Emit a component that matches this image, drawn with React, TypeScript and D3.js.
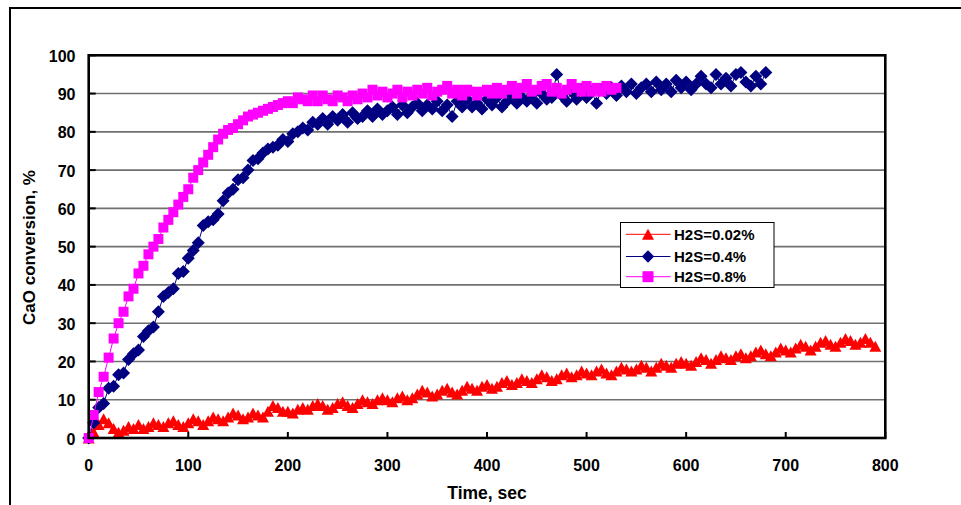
import React from "react";
import * as d3 from "d3";

// sampling interval of the recorded series (seconds)
const TIME_STEP = 5;

const seriesNames = ["H2S=0.02%", "H2S=0.4%", "H2S=0.8%"];

// H2S = 0.02 %  (t = 0 … 790 s), one row = 100 s
const red002 = [
  0, 1.5, 3.5, 5, 4, 2.5, 1.5, 2, 3, 2.5, 3.5, 2.5, 3, 4, 3.5, 3, 4, 4.5, 3.5, 3,
  4, 5, 4.5, 3.5, 4.5, 5.5, 5, 4.5, 5.5, 6.5, 6, 5, 5.5, 6.5, 6, 5.5, 7, 8.5, 8, 7,
  7, 6.5, 7.5, 8, 7.5, 8.5, 9, 8.5, 7.5, 8, 9, 9.5, 8.5, 8, 9, 10, 9.5, 9, 10, 10.5,
  10, 9.5, 10.5, 11, 10, 10.5, 11.5, 12.5, 12, 11, 11.5, 12.5, 13, 12, 11.5, 12.5, 13.5, 13, 12.5, 13.5,
  14, 13, 13.5, 14.5, 15, 14, 14.5, 15.5, 15, 14.5, 15.5, 16.5, 16, 15, 15.5, 16.5, 17, 16, 16.5, 17.5,
  17, 16.5, 17.5, 18, 17, 16.5, 17.5, 18.5, 18, 17.5, 18, 19, 18.5, 17.5, 18.5, 19.5, 19, 18.5, 19.5, 20,
  19.5, 19, 20, 21, 20.5, 19.5, 20.5, 21.5, 21, 20.5, 21.5, 22, 21, 21.5, 22.5, 23, 22, 21.5, 22.5, 23.5,
  23, 22.5, 23.5, 24.5, 24, 23, 24, 25, 25.5, 24.5, 24, 25, 26, 25.5, 24.5, 25, 26, 25, 24,
];

// H2S = 0.4 %  (t = 0 … 680 s)
const blue04 = [
  0, 4, 8, 9, 13, 13.5, 16.5, 17, 20.5, 22, 23, 26.5, 28, 29, 33, 37, 38, 39, 43, 43.5,
  47, 49, 51, 55.5, 56.5, 57, 58.5, 62, 64, 65, 67.5, 68, 70, 72.5, 73, 74.5, 75.5, 76, 76.5, 78,
  77.5, 79.5, 80, 81, 80.5, 82.5, 82, 83.5, 82, 84, 83, 84.5, 82.5, 85, 83.5, 84, 85.5, 84, 86, 84.5,
  85.5, 86.5, 84.5, 87, 85, 86.5, 87.5, 85.5, 87, 86, 88, 85.5, 87, 84, 88, 86.5, 88.5, 86.5, 87.5, 86,
  88.5, 87, 89, 86.5, 88, 89.5, 87.5, 89, 88, 89.5, 87.5, 90, 88.5, 89, 95, 89.5, 88, 90.5, 88.5, 91,
  89, 90.5, 87.5, 91, 90, 91.5, 89.5, 92, 90.5, 92.5, 90, 91.5, 92.5, 90.5, 93, 91, 92.5, 90.5, 93.5, 91.5,
  93, 91, 92.5, 94.5, 92.5, 91.5, 95, 92.5, 94, 92, 95, 95.5, 93, 92, 94.5, 92.5, 95.5,
];

// H2S = 0.8 %  (t = 0 … 530 s)
const magenta08 = [
  0, 6, 12, 16, 21, 26, 30, 33, 37, 39, 43, 45, 48, 50, 52, 55, 57, 59, 61, 63,
  65, 68, 70, 72, 74, 76, 78, 79.5, 80.5, 81, 82, 83, 84, 84.5, 85, 85.5, 86, 86.5, 87, 87.5,
  88, 87.5, 89, 88.5, 88, 89.5, 88, 89.5, 88.5, 88, 89.5, 89, 88, 89.5, 88.5, 90, 89, 91, 89.5, 90.5,
  89, 90, 91, 89, 90.5, 89.5, 91, 90, 91.5, 89.5, 90.5, 91, 92, 90, 91, 89.5, 91, 90.5, 89.5, 90.5,
  91, 90, 91.5, 90, 91, 92, 90, 91.5, 92.5, 90.5, 91, 92, 92.5, 90.5, 91.5, 90, 91, 92.5, 91.5, 90.5,
  92, 90.5, 91.5, 90.5, 92, 91, 91.5,
];

const xTicks = [0, 100, 200, 300, 400, 500, 600, 700, 800];
const yTicks = [0, 10, 20, 30, 40, 50, 60, 70, 80, 90, 100];

const FONT = "'Liberation Sans', Arial, Helvetica, sans-serif";

const W = 961;
const H = 505;
const plot = { left: 88.7, right: 885.3, top: 55.3, bottom: 438 };

const xScale = d3.scaleLinear().domain([0, 800]).range([plot.left, plot.right]);
const yScale = d3.scaleLinear().domain([0, 100]).range([plot.bottom, plot.top]);

const triangle = (cx: number, cy: number, w = 12, h = 11) =>
  `M${cx},${cy - h / 2}L${cx + w / 2},${cy + h / 2}L${cx - w / 2},${cy + h / 2}Z`;
const diamond = (cx: number, cy: number, r = 6.5) =>
  `M${cx},${cy - r}L${cx + r},${cy}L${cx},${cy + r}L${cx - r},${cy}Z`;
const square = (cx: number, cy: number, s = 10) =>
  `M${cx - s / 2},${cy - s / 2}h${s}v${s}h${-s}Z`;

type Series = {
  name: string;
  values: number[];
  color: string;
  marker: (cx: number, cy: number) => string;
  legendMarker: (cx: number, cy: number) => string;
};

const series: Series[] = [
  {
    name: seriesNames[0],
    values: red002,
    color: "#FF0000",
    marker: (x, y) => triangle(x, y),
    legendMarker: (x, y) => triangle(x, y, 12, 11),
  },
  {
    name: seriesNames[1],
    values: blue04,
    color: "#000080",
    marker: (x, y) => diamond(x, y),
    legendMarker: (x, y) => diamond(x, y, 6.2),
  },
  {
    name: seriesNames[2],
    values: magenta08,
    color: "#FF00FF",
    marker: (x, y) => square(x, y),
    legendMarker: (x, y) => square(x, y, 11),
  },
];

const line = d3
  .line<number>()
  .x((_, i) => xScale(i * TIME_STEP))
  .y((d) => yScale(d));

export default function App() {
  const legend = { x: 620.5, y: 222.5, w: 153.5, h: 65 };
  const legendRows = [234.3, 256.5, 276.7];
  return (
    <svg
      width={W}
      height={H}
      viewBox={`0 0 ${W} ${H}`}
      style={{ position: "absolute", left: 0, top: 0, display: "block", background: "#fff" }}
      fontFamily={FONT}
    >
      <rect x={0} y={0} width={W} height={H} fill="#fff" />
      {/* outer chart frame */}
      <rect x={10} y={8} width={1000} height={1000} fill="none" stroke="#000" strokeWidth={2} />

      {/* gridlines */}
      {yTicks
        .filter((t) => t > 0 && t < 100)
        .map((t) => (
          <line
            key={"g" + t}
            x1={plot.left}
            x2={plot.right}
            y1={yScale(t)}
            y2={yScale(t)}
            stroke="#707070"
            strokeWidth={1.6}
          />
        ))}

      {/* series */}
      {series.map((s) => (
        <g key={s.name}>
          <path d={line(s.values) || ""} fill="none" stroke={s.color} strokeWidth={1} />
          {s.values.map((v, i) => (
            <path key={i} d={s.marker(xScale(i * TIME_STEP), yScale(v))} fill={s.color} />
          ))}
        </g>
      ))}

      {/* plot frame */}
      <rect
        x={plot.left}
        y={plot.top}
        width={plot.right - plot.left}
        height={plot.bottom - plot.top}
        fill="none"
        stroke="#000"
        strokeWidth={2.6}
      />

      {/* y ticks */}
      {yTicks.map((t) => (
        <g key={"y" + t}>
          <line x1={plot.left} x2={plot.left + 7} y1={yScale(t)} y2={yScale(t)} stroke="#000" strokeWidth={2} />
          <text
            x={75.5}
            y={yScale(t) + 6.5}
            textAnchor="end"
            fontSize={16}
            fontWeight="bold"
            fill="#000"
          >
            {t}
          </text>
        </g>
      ))}

      {/* x ticks */}
      {xTicks.map((t) => (
        <g key={"x" + t}>
          <line x1={xScale(t)} x2={xScale(t)} y1={plot.bottom} y2={plot.bottom - 6} stroke="#000" strokeWidth={2} />
          <text x={xScale(t)} y={471} textAnchor="middle" fontSize={16} fontWeight="bold" fill="#000">
            {t}
          </text>
        </g>
      ))}

      {/* axis titles */}
      <text
        x={(plot.left + plot.right) / 2}
        y={499}
        textAnchor="middle"
        fontSize={17.5}
        fontWeight="bold"
        fill="#000"
      >
        Time, sec
      </text>
      <text
        transform={`translate(35,247.5) rotate(-90)`}
        textAnchor="middle"
        fontSize={17}
        fontWeight="bold"
        fill="#000"
      >
        CaO conversion, %
      </text>

      {/* legend */}
      <rect x={legend.x} y={legend.y} width={legend.w} height={legend.h} fill="#fff" stroke="#000" strokeWidth={1} />
      {series.map((s, i) => (
        <g key={"l" + s.name}>
          <line x1={626} x2={670.5} y1={legendRows[i]} y2={legendRows[i]} stroke={s.color} strokeWidth={1} />
          <path d={s.legendMarker(648, legendRows[i])} fill={s.color} />
          <text x={674} y={legendRows[i] + 5.5} fontSize={15} fontWeight="bold" fill="#000">
            {s.name}
          </text>
        </g>
      ))}
    </svg>
  );
}
